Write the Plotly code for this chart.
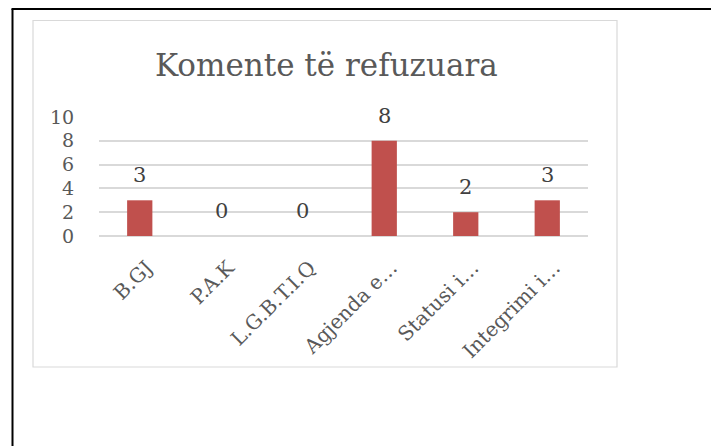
import plotly.graph_objects as go

categories = ["B.GJ", "P.A.K", "L.G.B.T.I.Q", "Agjenda e…", "Statusi i…", "Integrimi i…"]
values = [3, 0, 0, 8, 2, 3]
y_ticks = [0, 2, 4, 6, 8, 10]
title_text = "Komente të refuzuara"

FONT = "DejaVu Serif"
OFF = 8  # page body margin
W, H = 719 - OFF, 446 - OFF
L, R, T, B = 99 - OFF, 131, 117 - OFF, 210
pw = W - L - R
ph = H - T - B

# convert screen-pixel targets to paper coordinates
def px(x):
    return (x - OFF - L) / pw

def py(y):
    return (H - B - (y - OFF)) / ph

fig = go.Figure()
fig.add_trace(go.Bar(
    x=categories, y=values,
    marker=dict(color="#C0504D", line=dict(width=0)),
    cliponaxis=False,
))

label_annotations = [
    dict(x=c, y=v, xref="x", yref="y", text=str(v), showarrow=False,
         xanchor="center", yanchor="bottom", yshift=11,
         font=dict(family=FONT, size=21, color="#404040"))
    for c, v in zip(categories, values)
]

fig.update_layout(
    width=W, height=H,
    margin=dict(l=L, r=R, t=T, b=B),
    paper_bgcolor="white", plot_bgcolor="white",
    showlegend=False,
    bargap=0.69,
    font=dict(family=FONT, color="#595959"),
    xaxis=dict(
        tickangle=-45,
        tickfont=dict(family=FONT, size=20, color="#595959"),
        ticks="outside", ticklen=11, tickcolor="rgba(0,0,0,0)",
        ticklabelshift=7,
        showgrid=False, showline=False, zeroline=False,
    ),
    yaxis=dict(
        range=[0, 10],
        tickvals=y_ticks,
        tickfont=dict(family=FONT, size=19, color="#595959"),
        ticks="outside", ticklen=20, tickcolor="rgba(0,0,0,0)",
        showgrid=True, gridcolor="#D9D9D9", gridwidth=1.5,
        zeroline=True, zerolinecolor="#D9D9D9", zerolinewidth=1.5,
        showline=False,
    ),
    shapes=[
        dict(type="rect", xref="paper", yref="paper",
             x0=px(33), x1=px(617), y0=py(367), y1=py(20.5),
             line=dict(color="#D9D9D9", width=1.2), layer="below"),
        dict(type="line", xref="paper", yref="paper",
             x0=px(12.5), x1=px(12.5), y0=py(9), y1=py(470),
             line=dict(color="black", width=2)),
        dict(type="line", xref="paper", yref="paper",
             x0=px(712.5), x1=px(712.5), y0=py(9), y1=py(470),
             line=dict(color="black", width=2)),
        dict(type="line", xref="paper", yref="paper",
             x0=px(11.5), x1=px(713.5), y0=py(9), y1=py(9),
             line=dict(color="black", width=2)),
    ],
    annotations=[
        dict(text=title_text, xref="paper", yref="paper",
             x=px(326), y=py(65), xanchor="center", yanchor="middle",
             showarrow=False,
             font=dict(family=FONT, size=31, color="#595959")),
    ] + label_annotations,
)

fig.write_html("out.html")
